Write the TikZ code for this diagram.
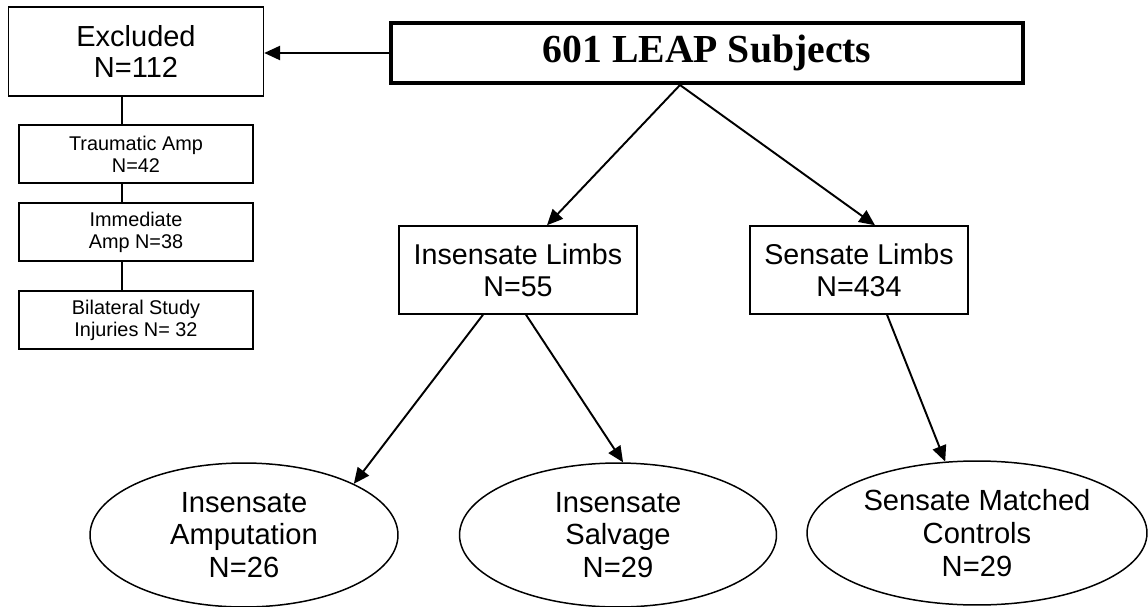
\documentclass[tikz,border=0pt]{standalone}
\usepackage{fontspec}
\setmainfont{Liberation Sans}
\newfontfamily\titlefont{Liberation Serif}
\usetikzlibrary{shapes.geometric,arrows.meta,calc}

\begin{document}
\begin{tikzpicture}[x=0.02cm,y=-0.02cm,
  box/.style={draw,line width=0.85pt,inner sep=0pt,align=center},
  subbox/.style={box,minimum width=4.68cm,minimum height=1.16cm,font=\fontsize{11.3}{12.5}\selectfont},
  limbbox/.style={box,minimum height=1.76cm,font=\fontsize{16.3}{18.1}\selectfont},
  oval/.style={draw,ellipse,line width=0.85pt,inner sep=0pt,align=center,minimum height=2.88cm,font=\fontsize{16.6}{18.7}\selectfont},
  arr/.style={-{Triangle[length=9pt,width=8pt]},line width=1.1pt}]
\useasboundingbox (0,0) rectangle (1148,607);
% top and excluded column
\node [box,line width=2.3pt,minimum width=12.64cm,minimum height=1.2cm,font=\titlefont\bfseries\fontsize{22.6}{24}\selectfont] (leap) at (707,53) {601 LEAP Subjects};
\node [box,minimum width=5.1cm,minimum height=1.78cm,font=\fontsize{16.5}{18.1}\selectfont] (excl) at (136,51.5) {Excluded\\N=112};
\node [subbox] (traum) at (136,154) {Traumatic Amp\\N=42};
\node [subbox] (immed) at (136,232) {Immediate\\Amp N=38};
\node [subbox] (bilat) at (136,320) {Bilateral Study\\Injuries N= 32};
\coordinate (spine) at (122,0);
\draw [line width=0.85pt] (excl.south -| spine) -- (traum.north -| spine);
\draw [line width=0.85pt] (traum.south -| spine) -- (immed.north -| spine);
\draw [line width=0.85pt] (immed.south -| spine) -- (bilat.north -| spine);
\draw [arr] (leap.west) -- (leap.west -| excl.east);
% limbs
\node [limbbox,minimum width=4.76cm] (inslimb) at (518,270) {Insensate Limbs\\N=55};
\node [limbbox,minimum width=4.36cm] (senslimb) at (859,270) {Sensate Limbs\\N=434};
\coordinate (split) at (680,0);
\draw [arr] (leap.south -| split) -- ($(inslimb.north)+(29,0)$);
\draw [arr] (leap.south -| split) -- ($(senslimb.north)+(16,0)$);
% outcome groups
\node [oval,minimum width=6.16cm] (amp) at (244,535) {Insensate\\Amputation\\N=26};
\node [oval,minimum width=6.34cm] (salv) at (618,535) {Insensate\\Salvage\\N=29};
\node [oval,minimum width=6.8cm] (match) at (977,533) {Sensate Matched\\Controls\\N=29};
\draw [arr] ($(inslimb.south)+(-35,0)$) -- (amp.25);
\draw [arr] ($(inslimb.south)+(8,0)$) -- (salv.86);
\draw [arr] ($(senslimb.south)+(28,0)$) -- (match.114);
\end{tikzpicture}
\end{document}
